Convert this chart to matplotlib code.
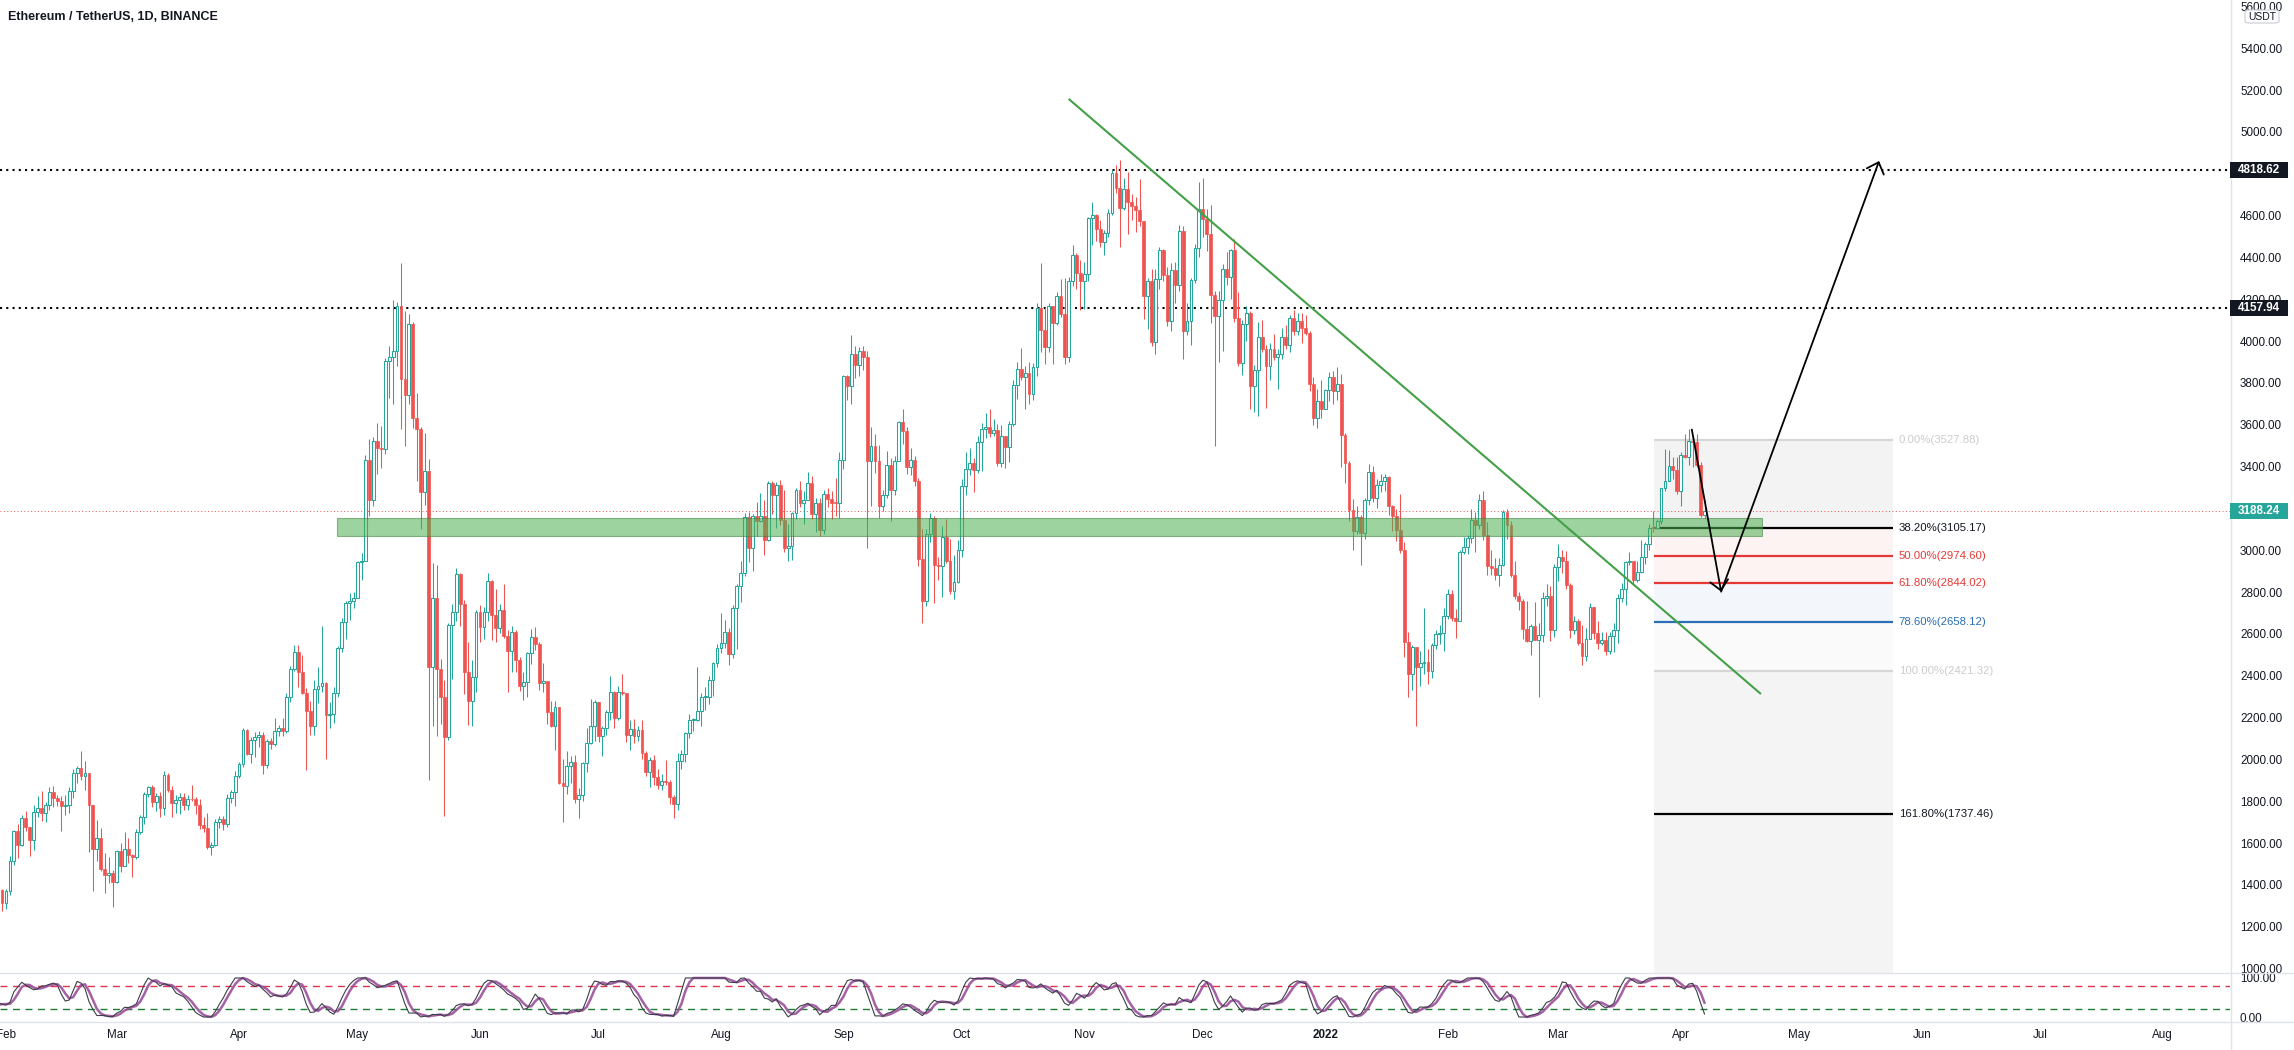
import numpy as np
import pandas as pd
import matplotlib
matplotlib.use("Agg")
import matplotlib.pyplot as plt
from matplotlib.lines import Line2D
from matplotlib.patches import Rectangle, FancyBboxPatch

plt.rcParams['font.family'] = ['Liberation Sans', 'DejaVu Sans']

W, H = 2294, 1050
base_day = np.datetime64("2021-02-01")

# ETH/USDT 1D, 2021-01-31 .. 2022-04-07 (open = previous close)
closes = [
    1314,
    # 2021 Feb
    1369, 1515, 1660, 1593, 1722, 1678, 1613, 1747, 1768, 1744, 1783, 1843, 1814, 1800,
    1779, 1781, 1848, 1937, 1960, 1920, 1935, 1781, 1570, 1626, 1475, 1446, 1459, 1416,
    # Mar
    1564, 1491, 1574, 1541, 1533, 1655, 1723, 1835, 1870, 1795, 1826, 1770, 1924, 1855,
    1792, 1806, 1822, 1782, 1812, 1809, 1784, 1688, 1674, 1582, 1589, 1700, 1714, 1689,
    1817, 1846, 1919,
    # Apr
    1977, 2143, 2028, 2093, 2107, 2117, 1971, 2088, 2072, 2136, 2151, 2138, 2300, 2431,
    2515, 2420, 2317, 2233, 2160, 2338, 2352, 2366, 2212, 2216, 2316, 2534, 2659, 2746,
    2756, 2772,
    # May
    2945, 2949, 3431, 3240, 3522, 3490, 3484, 3903, 3924, 3951, 4169, 3821, 3741, 4080,
    3630, 3581, 3277, 3381, 2443, 2771, 2430, 2300, 2105, 2644, 2706, 2886, 2745, 2420,
    2280, 2393, 2707,
    # Jun
    2634, 2707, 2855, 2689, 2630, 2713, 2592, 2517, 2610, 2473, 2353, 2372, 2508, 2587,
    2550, 2365, 2373, 2226, 2161, 2250, 1888, 1875, 1969, 1990, 1811, 1830, 1983, 2080,
    2161, 2275,
    # Jul
    2110, 2151, 2227, 2323, 2198, 2323, 2316, 2116, 2146, 2111, 2140, 2031, 1940, 1995,
    1916, 1880, 1898, 1893, 1820, 1787, 1994, 2026, 2124, 2188, 2190, 2232, 2300, 2300,
    2381, 2461, 2535,
    # Aug
    2556, 2608, 2506, 2725, 2827, 2890, 3157, 3012, 3163, 3140, 3164, 3047, 3322, 3265,
    3310, 3147, 3012, 3019, 3180, 3286, 3225, 3242, 3323, 3173, 3225, 3098, 3271, 3244,
    3227, 3225, 3433,
    # Sep
    3834, 3787, 3937, 3887, 3951, 3926, 3429, 3497, 3427, 3211, 3266, 3407, 3286, 3427,
    3611, 3568, 3399, 3433, 3329, 2958, 2759, 3077, 3155, 2930, 2925, 3063, 2947, 2807,
    2850, 3001,
    # Oct
    3308, 3390, 3418, 3384, 3518, 3581, 3588, 3560, 3575, 3415, 3545, 3492, 3606, 3788,
    3866, 3829, 3846, 3746, 3877, 4156, 4055, 3972, 4170, 4086, 4217, 4131, 3923, 4287,
    4414, 4325, 4288,
    # Nov
    4323, 4587, 4603, 4537, 4476, 4518, 4611, 4805, 4733, 4637, 4729, 4666, 4648, 4625,
    4573, 4215, 4286, 3996, 4296, 4436, 4318, 4095, 4341, 4268, 4526, 4046, 4095, 4290,
    4443, 4631,
    # Dec
    4586, 4512, 4219, 4119, 4198, 4346, 4306, 4436, 4111, 3895, 4084, 4134, 3783, 3861,
    4021, 3960, 3879, 3960, 3922, 3939, 4019, 3980, 4109, 4047, 4094, 4064, 4037, 3794,
    3630, 3713, 3676,
    # 2022 Jan
    3765, 3829, 3761, 3794, 3550, 3418, 3193, 3091, 3157, 3083, 3239, 3372, 3248, 3310,
    3330, 3350, 3212, 3164, 3096, 3001, 2560, 2406, 2539, 2441, 2461, 2464, 2423, 2547,
    2599, 2603, 2688,
    # Feb
    2793, 2677, 2664, 2990, 3017, 3058, 3143, 3122, 3240, 3072, 2927, 2916, 2881, 2929,
    3183, 3123, 2880, 2780, 2757, 2624, 2567, 2637, 2573, 2596, 2772, 2782, 2618, 2921,
    # Mar
    2970, 2950, 2834, 2617, 2664, 2555, 2496, 2575, 2727, 2606, 2558, 2570, 2516, 2590,
    2618, 2772, 2814, 2944, 2948, 2860, 2898, 2969, 3030, 3108, 3107, 3142, 3296, 3329,
    3401, 3385, 3282,
    # Apr
    3454, 3445, 3522, 3520, 3410, 3170, 3188.24,
]

highs = [
    1381,
    1380, 1540, 1664, 1692, 1736, 1752, 1679, 1780, 1827, 1847, 1794, 1870, 1872, 1830,
    1825, 1828, 1868, 1953, 1967, 2042, 1993, 1936, 1782, 1710, 1672, 1551, 1534, 1471,
    1567, 1600, 1652, 1622, 1546, 1667, 1735, 1842, 1875, 1880, 1839, 1842, 1946, 1933,
    1875, 1830, 1840, 1840, 1830, 1877, 1818, 1813, 1726, 1744, 1605, 1713, 1728, 1730,
    1837, 1855, 1946,
    1990, 2151, 2145, 2105, 2130, 2135, 2130, 2097, 2103, 2198, 2164, 2200, 2318, 2448,
    2545, 2547, 2498, 2340, 2280, 2380, 2440, 2640, 2370, 2275, 2347, 2544, 2676, 2758,
    2797, 2800,
    2950, 2985, 3457, 3530, 3540, 3608, 3595, 3920, 3975, 4197, 4186, 4372, 4145, 4130,
    4090, 3750, 3588, 3561, 3438, 2939, 2930, 2480, 2380, 2650, 2745, 2915, 2890, 2760,
    2562, 2475, 2715,
    2740, 2730, 2890, 2860, 2815, 2745, 2840, 2620, 2640, 2620, 2490, 2417, 2515, 2622,
    2635, 2563, 2460, 2375, 2278, 2280, 2252, 2000, 2040, 2015, 2020, 1865, 1990, 2150,
    2290, 2285,
    2275, 2158, 2238, 2400, 2325, 2350, 2410, 2318, 2190, 2195, 2160, 2190, 2040, 2010,
    2020, 1955, 1930, 1995, 1903, 1829, 2030, 2043, 2130, 2215, 2198, 2440, 2318, 2345,
    2399, 2468, 2550,
    2700, 2665, 2630, 2740, 2840, 2950, 3180, 3185, 3175, 3232, 3275, 3238, 3332, 3330,
    3325, 3335, 3289, 3125, 3185, 3300, 3333, 3285, 3375, 3353, 3250, 3250, 3288, 3297,
    3285, 3345, 3470,
    3838, 3840, 4030, 3975, 3970, 3975, 3955, 3590, 3555, 3505, 3290, 3475, 3440, 3450,
    3620, 3675, 3590, 3490, 3450, 3345, 3100, 3100, 3176, 3165, 2970, 3115, 3150, 3055,
    2975, 3050,
    3340, 3470, 3490, 3440, 3545, 3610, 3655, 3675, 3627, 3605, 3600, 3545, 3617, 3815,
    3900, 3968, 3881, 3900, 3897, 4181, 4375, 4165, 4180, 4170, 4236, 4295, 4300, 4308,
    4460, 4420, 4386,
    4380, 4595, 4667, 4606, 4580, 4530, 4630, 4820, 4840, 4868, 4782, 4810, 4705, 4690,
    4773, 4576, 4302, 4343, 4345, 4450, 4440, 4355, 4375, 4380, 4555, 4550, 4180, 4300,
    4465, 4760,
    4778, 4630, 4650, 4240, 4240, 4370, 4424, 4440, 4490, 4237, 4100, 4170, 4144, 3885,
    4090, 4100, 3979, 3990, 4035, 3960, 4064, 4075, 4125, 4150, 4135, 4135, 4125, 4050,
    3828, 3769, 3815,
    3770, 3850, 3855, 3876, 3842, 3560, 3427, 3245, 3210, 3167, 3252, 3414, 3405, 3340,
    3365, 3365, 3355, 3215, 3195, 3270, 3040, 2610, 2545, 2458, 2520, 2722, 2530, 2555,
    2620, 2645, 2725,
    2815, 2810, 2720, 3000, 3065, 3073, 3197, 3182, 3267, 3282, 3135, 3000, 2962, 2965,
    3192, 3195, 3140, 2949, 2800, 2766, 2756, 2648, 2752, 2650, 2800, 2840, 2830, 2935,
    3030, 3000, 2997, 2844, 2685, 2672, 2643, 2630, 2750, 2727, 2660, 2610, 2608, 2610,
    2650, 2790, 2845, 2950, 2990, 2950, 2950, 3047, 3040, 3125, 3190, 3150, 3300, 3482,
    3480, 3445, 3445,
    3470, 3555, 3580, 3540, 3556, 3420, 3240,
]

lows = [
    1273,
    1287, 1352, 1496, 1530, 1585, 1660, 1536, 1568, 1725, 1705, 1702, 1760, 1774, 1775,
    1657, 1734, 1743, 1817, 1885, 1902, 1855, 1555, 1371, 1512, 1467, 1360, 1411, 1294,
    1409, 1460, 1490, 1503, 1440, 1522, 1645, 1690, 1822, 1771, 1752, 1727, 1736, 1845,
    1723, 1746, 1738, 1760, 1757, 1799, 1737, 1665, 1653, 1572, 1541, 1585, 1673, 1664,
    1675, 1790, 1776,
    1912, 1963, 2021, 1982, 2011, 2057, 1932, 1961, 2051, 2064, 2110, 2110, 2128, 2275,
    2425, 2345, 2315, 1950, 2119, 2117, 2270, 2320, 2000, 2150, 2175, 2298, 2514, 2575,
    2667, 2722,
    2771, 2857, 2947, 3162, 3212, 3365, 3394, 3460, 3730, 3701, 3880, 3580, 3500, 3700,
    3583, 3332, 3100, 3216, 1900, 2160, 2113, 2168, 1730, 2095, 2384, 2660, 2640, 2315,
    2165, 2161, 2321,
    2560, 2576, 2660, 2570, 2560, 2605, 2580, 2320, 2420, 2420, 2325, 2286, 2300, 2454,
    2522, 2334, 2320, 2170, 2155, 2046, 1884, 1700, 1835, 1885, 1790, 1720, 1800, 1940,
    2072, 2090,
    2085, 2017, 2116, 2187, 2150, 2187, 2306, 2085, 2045, 2080, 2090, 2000, 1922, 1866,
    1880, 1858, 1852, 1878, 1786, 1718, 1760, 1953, 1990, 2102, 2136, 2185, 2160, 2236,
    2265, 2305, 2440,
    2510, 2535, 2450, 2485, 2530, 2752, 2876, 2945, 2900, 3068, 3137, 2977, 3042, 3175,
    3105, 3120, 2993, 2950, 2955, 3150, 3206, 3127, 3240, 3150, 3085, 3070, 3080, 3205,
    3150, 3162, 3152,
    3390, 3720, 3700, 3825, 3835, 3860, 3010, 3210, 3370, 3155, 3190, 3250, 3140, 3262,
    3430, 3510, 3363, 3361, 3306, 2925, 2652, 2735, 3040, 2746, 2860, 2775, 2937, 2790,
    2765, 2845,
    2969, 3266, 3360, 3280, 3370, 3380, 3535, 3540, 3545, 3405, 3400, 3395, 3420, 3595,
    3725, 3812, 3675, 3700, 3720, 3835, 3950, 3890, 3950, 3890, 4077, 4117, 3890, 3900,
    4265, 4250, 4150,
    4155, 4285, 4460, 4480, 4450, 4410, 4500, 4604, 4710, 4450, 4625, 4511, 4580, 4520,
    4551, 4105, 4060, 3975, 3940, 4251, 4289, 4070, 4050, 4182, 4240, 3915, 4030, 3983,
    4280, 4400,
    4500, 4430, 4085, 3500, 3900, 3953, 4270, 4200, 4090, 3880, 3840, 4000, 3675, 3660,
    3643, 3950, 3680, 3815, 3908, 3770, 3915, 3960, 3950, 4030, 4030, 3990, 4030, 3760,
    3600, 3585, 3630,
    3675, 3715, 3700, 3720, 3400, 3320, 3140, 3000, 3080, 2928, 3055, 3217, 3232, 3200,
    3280, 3284, 3170, 3090, 3045, 2985, 2490, 2300, 2334, 2159, 2350, 2409, 2360, 2390,
    2530, 2550, 2520,
    2670, 2660, 2580, 2660, 2980, 2980, 3035, 2990, 3100, 3050, 2880, 2880, 2857, 2830,
    2925, 3055, 2870, 2765, 2715, 2575, 2560, 2500, 2570, 2300, 2560, 2735, 2565, 2585,
    2855, 2890, 2815, 2582, 2600, 2545, 2451, 2470, 2575, 2575, 2530, 2548, 2500, 2505,
    2515, 2555, 2755, 2740, 2930, 2840, 2850, 2893, 2934, 3003, 3085, 3100, 3125, 3285,
    3360, 3340, 3270,
    3210, 3440, 3410, 3400, 3398, 3160, 3155,
]

# closes before the window (2020-12-13 .. 2021-01-30), only for the Stoch RSI warm-up
warmup_closes = [
    590, 575, 589, 636, 642, 654, 659, 638, 609, 634, 586, 612, 626, 636, 685, 731, 731,
    751, 737,
    730, 775, 979, 1042, 1100, 1208, 1225, 1224, 1281, 1262, 1090, 1043, 1130, 1218, 1171,
    1233, 1230, 1257, 1377, 1382, 1121, 1236, 1231, 1391, 1323, 1357, 1253, 1331, 1381, 1378,
]

month_ticks = ["2021-02-01", "2021-03-01", "2021-04-01", "2021-05-01", "2021-06-01",
               "2021-07-01", "2021-08-01", "2021-09-01", "2021-10-01", "2021-11-01",
               "2021-12-01", "2022-01-01", "2022-02-01", "2022-03-01", "2022-04-01",
               "2022-05-01", "2022-06-01", "2022-07-01", "2022-08-01"]
month_labels = ["Feb", "Mar", "Apr", "May", "Jun", "Jul", "Aug", "Sep", "Oct", "Nov",
                "Dec", "2022", "Feb", "Mar", "Apr", "May", "Jun", "Jul", "Aug"]

# price scale labels (4800 sits under the 4818.62 tag)
price_ticks = [1000, 1200, 1400, 1600, 1800, 2000, 2200, 2400, 2600, 2800, 3000, 3200, 3400,
               3600, 3800, 4000, 4200, 4400, 4600, 5000, 5200, 5400, 5600]

# drawings
key_levels = [4818.62, 4157.94]
last_price = 3188.24
zone_start, zone_end = "2021-04-25T17:00", "2022-04-21T14:00"
zone_low, zone_high = 3070, 3152
trend_dates = ["2021-10-28T05:00", "2022-04-21T02:00"]
trend_prices = [5155, 2316]
path_dates = ["2022-04-03T19:00", "2022-04-11T05:00", "2022-05-21T05:00"]
path_prices = [3577, 2802, 4861]
fib_start, fib_end = "2022-03-25T05:00", "2022-05-24T17:00"
fib_ratios = [0.0, 0.382, 0.5, 0.618, 0.786, 1.0, 1.618, 2.618]
fib_prices = [3527.88, 3105.17, 2974.60, 2844.02, 2658.12, 2421.32, 1737.46, 630.88]
fib_line_colors = ['#d6d6d6', '#000000', '#e53935', '#e53935', '#2a6fb5', '#d6d6d6', '#000000', '#000000']
fib_text_colors = ['#cccccc', '#131722', '#e53935', '#e53935', '#2a6fb5', '#cccccc', '#131722', '#131722']
fib_band_colors = ['#f3f3f3', '#fdf3f3', '#fdf3f3', '#f3f6fb', '#fafafa', '#f4f4f4', '#f4f4f4']


def day_of(s):
    return (np.datetime64(s) - base_day) / np.timedelta64(1, 'D')


UP = '#26a69a'
DOWN = '#ef5350'
TXT = '#131722'
SEP = '#e0e3eb'

c = np.array(closes, dtype=float)
o = np.r_[warmup_closes[-1], c[:-1]]
h = np.maximum(np.array(highs, dtype=float), np.maximum(o, c))
l = np.minimum(np.array(lows, dtype=float), np.minimum(o, c))
days = np.arange(len(c)) - 1

# Stoch RSI 14 14 3 3
allc = pd.Series(np.r_[warmup_closes, c])
all_days = np.arange(len(allc)) - len(warmup_closes) - 1
delta = allc.diff()
gain = delta.clip(lower=0).ewm(alpha=1 / 14, adjust=False).mean()
loss = (-delta.clip(upper=0)).ewm(alpha=1 / 14, adjust=False).mean()
rsi = 100 - 100 / (1 + gain / loss)
lo = rsi.rolling(14).min()
hi = rsi.rolling(14).max()
stoch = 100 * (rsi - lo) / (hi - lo)
k = stoch.rolling(3).mean()
d = k.rolling(3).mean()

fig = plt.figure(figsize=(W / 100, H / 100), dpi=100)
fig.patch.set_facecolor('white')
ax = fig.add_axes([0, 1 - 973 / H, 2230 / W, 973 / H])
ax2 = fig.add_axes([0, 1 - 1022 / H, 2230 / W, 49 / H], sharex=ax)

xmin, xmax = (0 - 6) / 3.95, (2230 - 6) / 3.95
ax.set_xlim(xmin, xmax)
ax.set_ylim(978.8, 5630.9)
ax2.set_ylim(-12.8, 112.8)

# fib retracement box
fx0, fx1 = day_of(fib_start), day_of(fib_end)
for i in range(len(fib_prices) - 1):
    ax.fill_between([fx0, fx1], fib_prices[i + 1], fib_prices[i], color=fib_band_colors[i], lw=0, zorder=0.5)
ax.hlines(fib_prices, fx0, fx1, colors=fib_line_colors, lw=1.6, zorder=1)
for r, p, col in zip(fib_ratios, fib_prices, fib_text_colors):
    ax.text(fx1 + 1.5, p, f"{r * 100:.2f}%({p:.2f})", color=col, fontsize=8.2,
            va='center', ha='left', clip_on=True, zorder=1)

# key levels and last price
for lv in key_levels:
    ax.axhline(lv, color='black', lw=1.5, ls=(0, (1, 2)), zorder=1.5)
ax.axhline(last_price, color=DOWN, lw=0.7, ls=(0, (1, 2.5)), zorder=1.5)

# candles
up = c >= o
ax.vlines(days[up], l[up], h[up], color=UP, lw=0.75, zorder=2)
ax.vlines(days[~up], l[~up], h[~up], color=DOWN, lw=0.75, zorder=2)
bottom = np.minimum(o, c)
height = np.maximum(np.abs(c - o), 4)
ax.bar(days[up], height[up], bottom=bottom[up], width=0.72, facecolor='white',
       edgecolor=UP, linewidth=0.75, zorder=3)
ax.bar(days[~up], height[~up], bottom=bottom[~up], width=0.72, facecolor=DOWN,
       edgecolor=DOWN, linewidth=0.5, zorder=3)

# support zone
zx0, zx1 = day_of(zone_start), day_of(zone_end)
ax.add_patch(Rectangle((zx0, zone_low), zx1 - zx0, zone_high - zone_low, facecolor='#4caf50',
                       alpha=0.55, edgecolor='#3d7f40', lw=0.8, zorder=4))

# trend line
ax.plot([day_of(t) for t in trend_dates], trend_prices, color='#43a047', lw=1.5, zorder=5)

# projected path
px = [day_of(t) for t in path_dates]
for i in range(2):
    ax.annotate('', xy=(px[i + 1], path_prices[i + 1]), xytext=(px[i], path_prices[i]),
                arrowprops=dict(arrowstyle='->,head_length=0.7,head_width=0.65', color='black',
                                lw=1.3, shrinkA=0, shrinkB=0), zorder=6)

for a in (ax, ax2):
    for s in a.spines.values():
        s.set_visible(False)
    a.set_facecolor('none')

ax.yaxis.tick_right()
ax.set_yticks(price_ticks)
ax.set_yticklabels([f"{v:.2f}" for v in price_ticks])
ax.tick_params(axis='y', length=0, pad=7.2, labelsize=8.4, labelcolor=TXT)
ax.tick_params(axis='x', bottom=False, labelbottom=False)

# stoch rsi pane
ax2.axhline(80, color='#e0334f', lw=1, ls=(0, (5, 4)))
ax2.axhline(20, color='#1e7d32', lw=1, ls=(0, (5, 4)))
ax2.plot(all_days, k, color='#3b3e48', lw=0.8, zorder=3)
ax2.plot(all_days, d, color='#9c4f9c', lw=1.8, alpha=0.9, zorder=2)
ax2.yaxis.tick_right()
ax2.set_yticks([0, 100])
ax2.set_yticklabels(['0.00', '100.00'])
ax2.tick_params(axis='y', length=0, pad=7.2, labelsize=8.4, labelcolor=TXT)
ax2.set_xticks([day_of(t) for t in month_ticks])
ax2.set_xticklabels(month_labels)
ax2.tick_params(axis='x', length=0, pad=5, labelsize=8.4, labelcolor=TXT)
for t in ax2.get_xticklabels():
    if t.get_text() == '2022':
        t.set_fontweight('bold')

# pane separators and price-scale border
fig.add_artist(Line2D([0, 1], [1 - 973 / H] * 2, transform=fig.transFigure, color=SEP, lw=1))
fig.add_artist(Line2D([0, 1], [1 - 1022 / H] * 2, transform=fig.transFigure, color=SEP, lw=1))
fig.add_artist(Line2D([2230.5 / W] * 2, [0, 1], transform=fig.transFigure, color=SEP, lw=1))


def price_tag(price, text, bg):
    y = ax.transData.transform((0, price))[1]
    fig.add_artist(Rectangle((2230 / W, (y - 8) / H), 58 / W, 16 / H, transform=fig.transFigure,
                             facecolor=bg, edgecolor='none', zorder=10))
    fig.text(2259 / W, y / H, text, ha='center', va='center', color='white', fontsize=8.4,
             fontweight='bold', zorder=11)


for lv in key_levels:
    price_tag(lv, f"{lv:.2f}", '#131722')
price_tag(last_price, f"{last_price:.2f}", UP)

# currency badge
fig.add_artist(FancyBboxPatch((2245 / W, 1 - 23 / H), 34 / W, 13 / H, transform=fig.transFigure,
                              boxstyle='round,pad=0,rounding_size=0.002', facecolor='white',
                              edgecolor='#c8cbd3', lw=0.8, zorder=10))
fig.text(2262 / W, 1 - 16.5 / H, 'USDT', ha='center', va='center', fontsize=7.5, color=TXT, zorder=11)

fig.text(8 / W, 1 - 17 / H, 'Ethereum / TetherUS, 1D, BINANCE', ha='left', va='center',
         fontsize=9, fontweight='bold', color=TXT)

fig.savefig('out.png', dpi=100, facecolor='white')
